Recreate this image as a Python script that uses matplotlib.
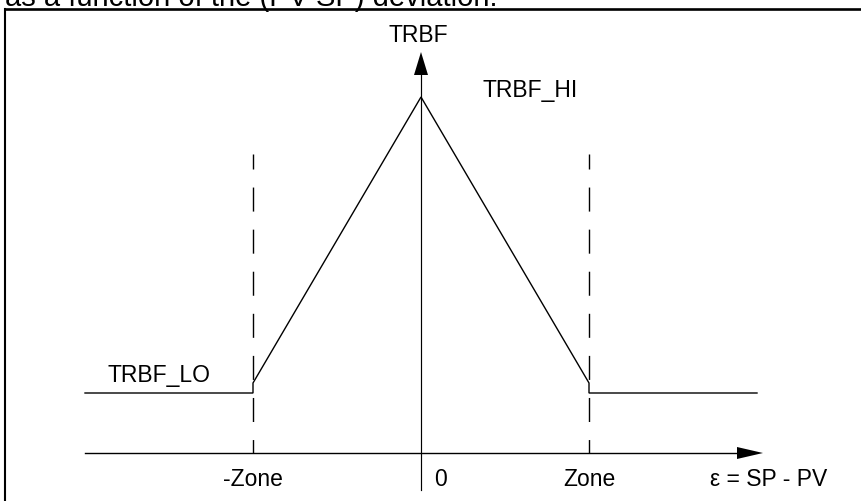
import matplotlib
matplotlib.use('Agg')
import matplotlib.pyplot as plt

plt.rcParams['font.family'] = ['Liberation Sans', 'DejaVu Sans']
plt.rcParams['lines.scale_dashes'] = False

# ---- data (x in units of Zone, y in arbitrary TRBF units, x-axis at y=0) ----
curve_x = [-2.0, -1.0, -1.0, 0.0, 1.0, 1.0, 2.0]
curve_y = [0.60, 0.60, 0.70, 3.56, 0.70, 0.60, 0.60]
zone_x = [-1.0, 1.0]
zone_labels = ['-Zone', 'Zone']
zero_label = '0'
trbf_lo_label = 'TRBF_LO'
trbf_hi_label = 'TRBF_HI'
y_axis_label = 'TRBF'
x_axis_label = 'ε = SP - PV'
caption = 'as a function of the (PV-SP) deviation.'

W, H = 862, 501
X0, SX = 421.0, 168.0   # pixel of x=0, pixels per unit
Y0, SY = 453.0, 100.0   # pixel of y=0, pixels per unit

fig = plt.figure(figsize=(W / 100, H / 100), dpi=100)
ax = fig.add_axes([0, 0, 1, 1])
ax.set_xlim((0 - X0) / SX, (W - X0) / SX)
ax.set_ylim((Y0 - H) / SY, Y0 / SY)
ax.axis('off')


def dx(px):
    return (px - X0) / SX


def dy(py):
    return (Y0 - py) / SY


FS = 16.5
K = 'black'

# frame (top and left borders visible)
ax.plot([dx(5), dx(W + 10)], [dy(9), dy(9)], color=K, lw=1.9, clip_on=False, solid_capstyle='projecting')
ax.plot([dx(5), dx(5)], [dy(9), dy(H + 10)], color=K, lw=1.5, clip_on=False, solid_capstyle='projecting')

# caption (the line of text above the figure, cut at the top as in the reference)
ax.text(dx(498), dy(6), caption, ha='right', va='baseline', fontsize=21, color=K)

# dashed zone lines
for zx in zone_x:
    ax.plot([zx, zx], [dy(154), 0], color=K, lw=1.0,
            linestyle=(6.5, (17.3, 13.0)))

# y axis with arrow
ax.plot([0, 0], [dy(490), dy(72)], color=K, lw=0.85)
ax.fill([0 - 7 / SX, 0 + 7 / SX, 0], [dy(75), dy(75), dy(52)], color=K, lw=0)

# x axis with arrow
ax.plot([curve_x[0], dx(740)], [0, 0], color=K, lw=1.0)
ax.fill([dx(737), dx(737), dx(763)], [6 / SY, -6 / SY, 0], color=K, lw=0)

# TRBF curve
ax.plot(curve_x, curve_y, color=K, lw=1.0, solid_joinstyle='miter')

# labels
ax.text(dx(418), dy(42), y_axis_label, ha='center', va='baseline', fontsize=FS, color=K)
ax.text(dx(483), dy(97), trbf_hi_label, ha='left', va='baseline', fontsize=FS, color=K)
ax.text(dx(108), dy(382), trbf_lo_label, ha='left', va='baseline', fontsize=FS, color=K)
for zx, lab in zip(zone_x, zone_labels):
    ax.text(zx, dy(486), lab, ha='center', va='baseline', fontsize=FS, color=K)
ax.text(dx(441), dy(486), zero_label, ha='center', va='baseline', fontsize=FS, color=K)
ax.text(dx(710), dy(486), x_axis_label, ha='left', va='baseline', fontsize=FS, color=K)

fig.savefig('out.png', dpi=100)
